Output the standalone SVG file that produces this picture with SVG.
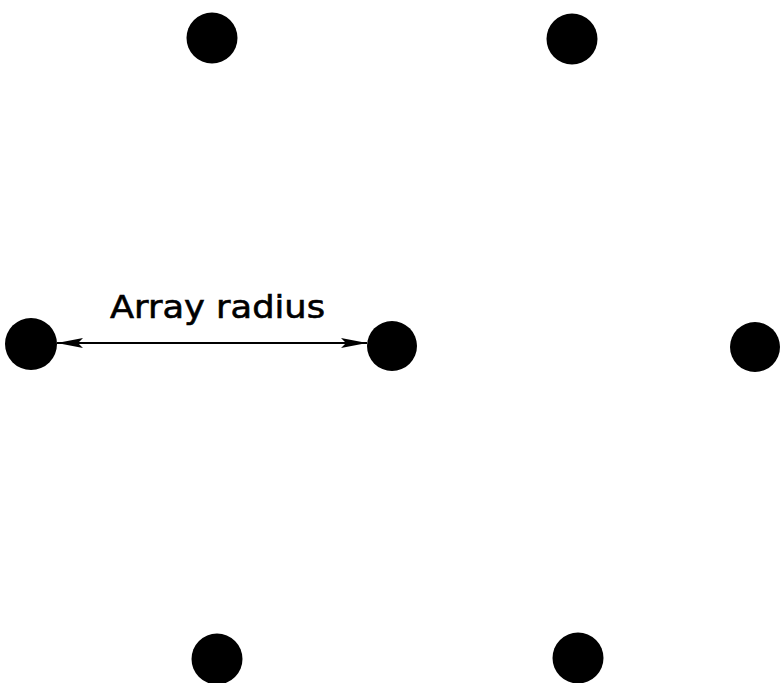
<svg xmlns="http://www.w3.org/2000/svg" width="780" height="683" viewBox="0 0 780 683">
<style>
.dot{fill:#000}
.conn{stroke:#000;stroke-width:1.8;fill:none}
.lbl{font-family:"DejaVu Sans","Liberation Sans",sans-serif;font-size:32px;fill:#000;stroke:#000;stroke-width:0.6}
</style>
<defs>
<marker id="ah" viewBox="0 0 26 10" refX="26" refY="5" markerWidth="26" markerHeight="10" markerUnits="userSpaceOnUse" orient="auto-start-reverse">
<path d="M0,0 L26,5 L0,10 L5,5 Z" fill="#000"/>
</marker>
</defs>
<rect width="780" height="683" fill="#fff"/>
<g id="connectors">
<line class="conn" x1="57" y1="343" x2="367" y2="343" marker-start="url(#ah)" marker-end="url(#ah)"/>
</g>
<g id="n-top-left"><circle class="dot" cx="212" cy="38" r="25.5"/></g>
<g id="n-top-right"><circle class="dot" cx="572" cy="39" r="25.5"/></g>
<g id="n-left"><circle class="dot" cx="31" cy="344" r="26"/></g>
<g id="n-center"><circle class="dot" cx="392" cy="346" r="25"/></g>
<g id="n-right"><circle class="dot" cx="755" cy="347" r="25"/></g>
<g id="n-bottom-left"><circle class="dot" cx="217" cy="659" r="25.5"/></g>
<g id="n-bottom-right"><circle class="dot" cx="578" cy="658" r="25.5"/></g>
<g id="label"><text class="lbl" x="110" y="318" textLength="215" lengthAdjust="spacingAndGlyphs">Array radius</text></g>
</svg>
